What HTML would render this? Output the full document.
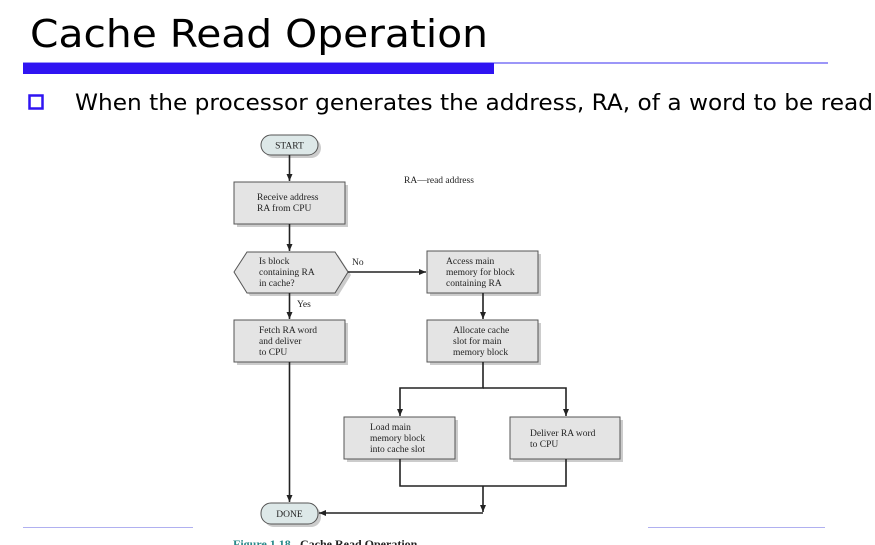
<!DOCTYPE html>
<html><head><meta charset="utf-8"><style>html,body{margin:0;padding:0;background:#fff;width:875px;height:545px;overflow:hidden}</style></head>
<body>
<svg width="875" height="545" viewBox="0 0 875 545" xmlns="http://www.w3.org/2000/svg">
<defs>
<marker id="ar" markerWidth="8" markerHeight="8" refX="7" refY="4" orient="auto" markerUnits="userSpaceOnUse"><path d="M0,1 L7,4 L0,7 Z" fill="#222"/></marker>
</defs>
<text x="30" y="47" font-family="DejaVu Sans, sans-serif" font-size="38" textLength="458" lengthAdjust="spacingAndGlyphs" fill="#000">Cache Read Operation</text>
<rect x="23" y="62.5" width="805" height="1" fill="#3a2cf0"/>
<rect x="23" y="63" width="471" height="11" fill="#2f14f2"/>
<rect x="29.5" y="95.5" width="13" height="13" fill="none" stroke="#2f14f2" stroke-width="2.5"/>
<text x="75" y="110" font-family="DejaVu Sans, sans-serif" font-size="22" textLength="798" lengthAdjust="spacingAndGlyphs" fill="#000">When the processor generates the address, RA, of a word to be read</text>

<g font-family="Liberation Serif, serif" font-size="9.5" fill="#222">
<g fill="#ccc">
<rect x="264" y="138" width="57" height="20" rx="10"/>
<rect x="237" y="185" width="111" height="42"/>
<polygon points="237,275 250,255 338,255 351,275 338,296 250,296"/>
<rect x="430" y="254" width="111" height="42"/>
<rect x="237" y="323" width="111" height="42"/>
<rect x="430" y="323" width="111" height="42"/>
<rect x="347" y="420" width="111" height="42"/>
<rect x="513" y="420" width="110" height="42"/>
<rect x="264" y="506" width="57" height="21" rx="10"/>
</g>
<g fill="#e4e4e4" stroke="#555" stroke-width="1">
<rect x="261" y="135" width="57" height="20" rx="10" fill="#dde8e8"/>
<rect x="234" y="182" width="111" height="42"/>
<polygon points="234,272 247,252 335,252 348,272 335,293 247,293"/>
<rect x="427" y="251" width="111" height="42"/>
<rect x="234" y="320" width="111" height="42"/>
<rect x="427" y="320" width="111" height="42"/>
<rect x="344" y="417" width="111" height="42"/>
<rect x="510" y="417" width="110" height="42"/>
<rect x="261" y="503" width="57" height="21" rx="10" fill="#dde8e8"/>
</g>
<text x="289.5" y="148.5" text-anchor="middle">START</text>
<text x="289.5" y="517" text-anchor="middle">DONE</text>
<text x="404" y="183">RA—read address</text>
<text x="257" y="200">Receive address</text><text x="257" y="211">RA from CPU</text>
<text x="259" y="264">Is block</text><text x="259" y="275">containing RA</text><text x="259" y="286">in cache?</text>
<text x="352" y="265">No</text>
<text x="297" y="307">Yes</text>
<text x="446" y="264">Access main</text><text x="446" y="275">memory for block</text><text x="446" y="286">containing RA</text>
<text x="259" y="333">Fetch RA word</text><text x="259" y="344">and deliver</text><text x="259" y="355">to CPU</text>
<text x="453" y="333">Allocate cache</text><text x="453" y="344">slot for main</text><text x="453" y="355">memory block</text>
<text x="370" y="430">Load main</text><text x="370" y="441">memory block</text><text x="370" y="452">into cache slot</text>
<text x="530" y="436">Deliver RA word</text><text x="530" y="447">to CPU</text>
</g>
<g stroke="#222" stroke-width="1.6" fill="none">
<line x1="289.5" y1="155" x2="289.5" y2="181" marker-end="url(#ar)"/>
<line x1="289.5" y1="224" x2="289.5" y2="251" marker-end="url(#ar)"/>
<line x1="348" y1="272" x2="426" y2="272" marker-end="url(#ar)"/>
<line x1="289.5" y1="293" x2="289.5" y2="319" marker-end="url(#ar)"/>
<line x1="483" y1="293" x2="483" y2="319" marker-end="url(#ar)"/>
<line x1="289.5" y1="362" x2="289.5" y2="502" marker-end="url(#ar)"/>
<polyline points="483,362 483,388 400,388 400,416" marker-end="url(#ar)"/>
<polyline points="483,388 566,388 566,416" marker-end="url(#ar)"/>
<polyline points="400,459 400,486 566,486 566,459"/>
<line x1="483" y1="486" x2="483" y2="512" marker-end="url(#ar)"/>
<line x1="483" y1="513" x2="319" y2="513" marker-end="url(#ar)"/>
</g>
<rect x="23" y="527" width="170" height="1" fill="#b0b0f0"/>
<rect x="648" y="527" width="177" height="1" fill="#b0b0f0"/>
<text x="233" y="548" font-family="Liberation Serif, serif" font-size="12" font-weight="bold" fill="#2a8a8a">Figure 1.18</text>
<text x="300" y="548" font-family="Liberation Serif, serif" font-size="12" font-weight="bold" fill="#222">Cache Read Operation</text>
</svg>
</body></html>
